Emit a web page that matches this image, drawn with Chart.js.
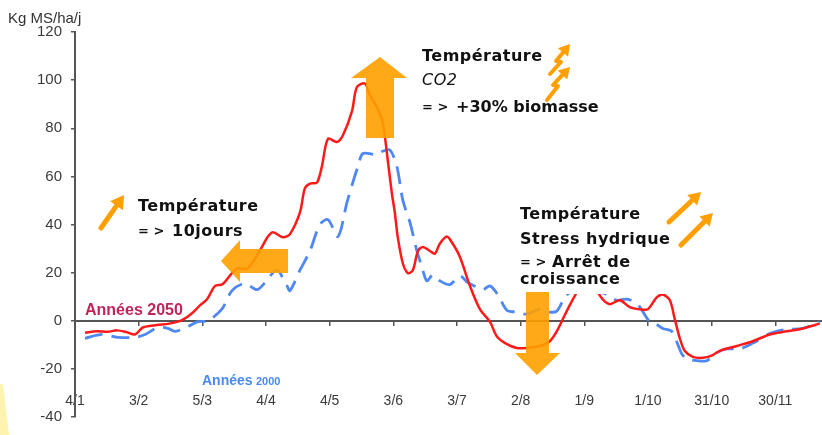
<!DOCTYPE html>
<html>
<head>
<meta charset="utf-8">
<script src="https://cdn.jsdelivr.net/npm/chart.js@4.4.1/dist/chart.umd.min.js"></script>
<style>
  html, body { margin: 0; padding: 0; background: #fff; }
  #chart { display: block; }
</style>
</head>
<body>
<canvas id="chart" width="822" height="435"></canvas>
<script>
"use strict";

// x = days since 4 January; one tick label every 30 days
const X_LABELS = ["4/1", "3/2", "5/3", "4/4", "4/5", "3/6", "3/7", "2/8", "1/9", "1/10", "31/10", "30/11"];

// Années 2050 (kg MS/ha/j)
const DAYS_2050 = [
  4.7, 10.3, 15.5, 19.8, 24.5, 28.3, 32, 38.6, 44.3, 50.4, 55, 59, 62.2, 66, 69.5, 74, 76.8, 81.5,
  88.1, 90.9, 93.3, 98, 101.3, 106, 108.3, 110.7, 114, 116.3, 119.2, 123.4, 126.2, 130.5, 132.8,
  136.6, 139, 142.7, 145.1, 147, 149.3, 150.7, 152.1, 154.5, 156.9, 159.2, 161.6, 163.9, 167.2,
  169.6, 171.9, 175.2, 178, 181.3, 186.1, 190.8, 195.5, 198.8, 203.5, 208.2, 212.9, 219, 223.7,
  227, 230.8, 234.6, 237.9, 241.6, 244.9, 248.7, 252, 256.7, 261.4, 266.1, 269.9, 274.1, 277,
  280.3, 282.6, 285, 287.3, 291.1, 295.8, 300, 303.8, 311.8, 319.4, 327.4, 335.4, 342.9, 350.9,
];
const VALUES_2050 = [
  -5, -4.4, -4.6, -4, -4.8, -5.7, -2.8, -1.8, -1.2, 0.3, 3, 6.5, 8.9, 14.5, 15.2, 19.8, 21.8, 21.8,
  30.7, 35, 36.8, 34.7, 36, 45, 55, 57, 57.4, 64, 75.6, 74.3, 77, 87, 97,
  98.6, 93.7, 88, 82, 69.5, 53, 45, 34.7, 23.8, 19.8, 21, 29, 30.7, 29,
  27.9, 32, 35, 32, 26.7, 14.5, 4.8, -0.4, -6.5, -9.7, -11.3, -11.3, -10.5, -8.5,
  -4.4, 2.4, 8.9, 13.7, 17, 13.7, 8.9, 6.9, 8.5, 5.7, 4.8, 4.8, 9.7, 10.9,
  8.5, 0.8, -7.3, -12.5, -15, -15.4, -14.5, -12.5, -10.5, -8.5, -5.7, -4.4, -3.2, -1.2,
];

// Années 2000 (kg MS/ha/j)
const DAYS_2000 = [
  4.7, 12.7, 20.3, 28.3, 33, 39.1, 43.8, 47.1, 53.2, 57.9, 62.6, 69.2, 74, 80, 85.7, 89.5, 95.1,
  99.9, 101.3, 106, 110.7, 115.4, 119.2, 123.9, 128.1, 130.9, 133.3, 135.7, 142.3, 144.6, 148.4,
  151.7, 154.5, 157.8, 159.2, 161.1, 163.4, 165.8, 168.6, 171.9, 176.6, 181.3, 185.1, 187, 192.2,
  195.5, 199.2, 203.5, 208.2, 212.9, 219, 223.7, 227, 230.8, 234.6, 240.2, 245.9, 250.6, 255.3,
  260, 265, 270.8, 274.1, 277, 281.2, 284, 285.9, 288.3, 293, 297.7, 302.4, 307.1, 313.2, 319.4,
  327.4, 335.4, 342.9, 350.9,
];
const VALUES_2000 = [
  -7.3, -5.7, -6.9, -6.9, -5.7, -2.8, -3.2, -4.4, -2.4, -0.4, 0, 4.8, 12.5, 15.5, 12.9, 15.8, 21,
  14.5, 12.5, 21, 29, 40, 42, 35, 49, 57.4, 64, 69.5, 69, 70.3, 71,
  64, 50, 41, 36, 29, 22.6, 16.6, 19, 16.6, 15, 18.6, 15.8, 15, 12.9,
  14.5, 10.9, 4.4, 3.6, 2.8, 4.8, 3.6, 4, 9.7, 12.9, 15, 12.5, 10.9, 8.5,
  9, 6.9, -0.4, -1.6, -3.2, -4.4, -9.7, -13.7, -15.8, -16.6, -16.6, -13.3, -11.7, -11.7, -9.3,
  -5.3, -3.6, -3.2, -0.4,
];

const toPoints = (xs, ys) => xs.map((x, i) => ({ x, y: ys[i] }));

const ORANGE = "rgba(255,160,0,0.9)";
const TICK_FONT = "'Liberation Sans', Arial, sans-serif";
const NOTE_FONT = "'DejaVu Sans', sans-serif";

function poly(ctx, pts) {
  ctx.beginPath();
  pts.forEach(([x, y], i) => (i ? ctx.lineTo(x, y) : ctx.moveTo(x, y)));
  ctx.closePath();
  ctx.fill();
}

// thin arrow along a polyline, head at the last point
function thinArrow(ctx, pts, width, head) {
  ctx.strokeStyle = "#ffa000";
  ctx.fillStyle = "#ffa000";
  ctx.lineWidth = width;
  ctx.lineCap = "round";
  ctx.lineJoin = "round";
  const [x2, y2] = pts[pts.length - 1];
  const [x1, y1] = pts[pts.length - 2];
  const a = Math.atan2(y2 - y1, x2 - x1);
  const bx = x2 - Math.cos(a) * head;
  const by = y2 - Math.sin(a) * head;
  ctx.beginPath();
  pts.slice(0, -1).forEach(([x, y], i) => (i ? ctx.lineTo(x, y) : ctx.moveTo(x, y)));
  ctx.lineTo(bx, by);
  ctx.stroke();
  const s = head * 0.6;
  poly(ctx, [
    [x2, y2],
    [bx + Math.cos(a + Math.PI / 2) * s, by + Math.sin(a + Math.PI / 2) * s],
    [bx + Math.cos(a - Math.PI / 2) * s, by + Math.sin(a - Math.PI / 2) * s],
  ]);
}

function text(ctx, str, x, y, font, color, spacing) {
  ctx.font = font;
  ctx.fillStyle = color || "#111";
  ctx.textAlign = "left";
  ctx.textBaseline = "middle";
  ctx.letterSpacing = spacing || "0px";
  ctx.fillText(str, x, y);
  ctx.letterSpacing = "0px";
}

const notes = {
  id: "notes",
  beforeDraw(chart) {
    const ctx = chart.ctx;
    ctx.save();
    ctx.fillStyle = "#fff3b0";
    poly(ctx, [[0, 384], [3, 384], [9, 435], [0, 435]]);
    ctx.restore();
  },
  afterDatasetsDraw(chart) {
    const ctx = chart.ctx;
    ctx.save();

    // white box behind the summer note
    ctx.fillStyle = "#fff";
    ctx.fillRect(508, 197, 226, 97);

    // block arrows
    ctx.fillStyle = ORANGE;
    poly(ctx, [[380, 57], [407, 78], [394, 78], [394, 138], [366, 138], [366, 78], [351, 78]]);
    poly(ctx, [[221, 261], [240, 240], [240, 249], [288, 249], [288, 273], [240, 273], [240, 282]]);
    poly(ctx, [[537, 375], [560, 353], [549, 353], [549, 292], [526, 292], [526, 353], [515, 353]]);

    // small arrows
    thinArrow(ctx, [[101, 228], [124, 195]], 5, 13);
    thinArrow(ctx, [[669, 222], [701, 192]], 5, 12);
    thinArrow(ctx, [[681, 245], [713, 213]], 5, 12);
    thinArrow(ctx, [[550, 74], [561, 62], [556, 61], [570, 44]], 4, 11);
    thinArrow(ctx, [[547, 100], [558, 86], [553, 85], [570, 67]], 4, 11);

    // notes
    const B = "bold 16px " + NOTE_FONT;
    const ARROW = "bold 13px " + NOTE_FONT;
    const SP = "0.5px";
    text(ctx, "Température", 138, 207, B, null, SP);
    text(ctx, "= >", 138, 232, ARROW);
    text(ctx, "10jours", 172, 232, B, null, SP);

    text(ctx, "Température", 422, 57, B, null, SP);
    text(ctx, "CO2", 422, 81, "italic 16px " + NOTE_FONT, null, SP);
    text(ctx, "= >", 422, 108, ARROW);
    text(ctx, "+30% biomasse", 456, 108, B);

    text(ctx, "Température", 520, 215, B, null, SP);
    text(ctx, "Stress hydrique", 520, 240, B, null, SP);
    text(ctx, "= >", 520, 263, ARROW);
    text(ctx, "Arrêt de", 552, 263, B, null, SP);
    text(ctx, "croissance", 520, 280, B, null, SP);

    // series labels
    text(ctx, "Années 2050", 85, 311, "bold 16px " + TICK_FONT, "#c0245a");
    text(ctx, "Années", 202, 381, "bold 14px " + TICK_FONT, "#4a88f0");
    text(ctx, "2000", 256, 382, "bold 11px " + TICK_FONT, "#4a88f0");

    ctx.restore();
  },
  afterDraw(chart) {
    const ctx = chart.ctx;
    ctx.save();
    text(ctx, "Kg MS/ha/j", 8, 19, "15px " + TICK_FONT, "#333");
    ctx.restore();
  },
};

new Chart(document.getElementById("chart"), {
  type: "line",
  data: {
    datasets: [
      {
        label: "Années 2050",
        data: toPoints(DAYS_2050, VALUES_2050),
        borderColor: "#ff1a1a",
        borderWidth: 2.5,
        pointRadius: 0,
        tension: 0.3,
        fill: false,
      },
      {
        label: "Années 2000",
        data: toPoints(DAYS_2000, VALUES_2000),
        borderColor: "#4f88f2",
        borderWidth: 2.8,
        borderDash: [18, 9],
        pointRadius: 0,
        tension: 0.3,
        fill: false,
      },
    ],
  },
  options: {
    responsive: false,
    animation: false,
    layout: { padding: { top: 32, bottom: 7, left: 0, right: 0 } },
    plugins: { legend: { display: false }, tooltip: { enabled: false } },
    scales: {
      x: {
        type: "linear",
        min: 0,
        max: 352,
        position: { y: 0 },
        grid: { drawOnChartArea: false, tickLength: 4, color: "#555", lineWidth: 1.5 },
        border: { color: "#555", width: 2 },
        ticks: {
          stepSize: 30,
          includeBounds: false,
          autoSkip: false,
          maxRotation: 0,
          padding: 68,
          color: "#3a3a3a",
          font: { family: TICK_FONT, size: 14 },
          callback: (v) => X_LABELS[Math.round(v / 30)] ?? "",
        },
        afterFit: (s) => { s.paddingLeft = 0; s.paddingRight = 0; },
      },
      y: {
        min: -40,
        max: 120,
        position: "left",
        grid: { drawOnChartArea: false, tickLength: 4, color: "#555", lineWidth: 1.5 },
        border: { color: "#555", width: 2 },
        ticks: {
          stepSize: 20,
          padding: 9,
          color: "#3a3a3a",
          font: { family: TICK_FONT, size: 15 },
        },
        afterFit: (s) => { s.width = 75; },
      },
    },
  },
  plugins: [notes],
});
</script>
</body>
</html>
